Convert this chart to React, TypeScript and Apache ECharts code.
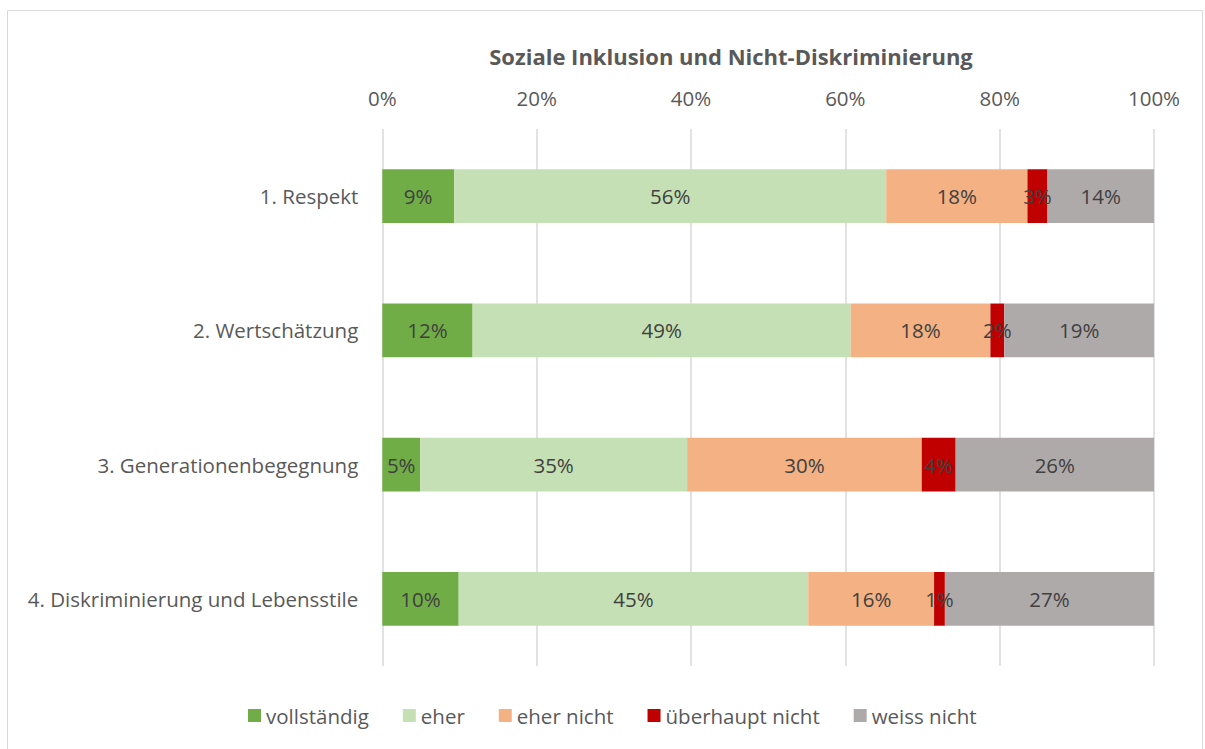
import React, { useEffect, useRef } from "react";
import * as echarts from "echarts";

const categories = [
  "1. Respekt",
  "2. Wertschätzung",
  "3. Generationenbegegnung",
  "4. Diskriminierung und Lebensstile",
];
const seriesNames = ["vollständig", "eher", "eher nicht", "überhaupt nicht", "weiss nicht"];
const vollstaendig = [9.3, 11.7, 4.9, 9.9];
const eher = [56.0, 49.0, 34.6, 45.3];
const eherNicht = [18.3, 18.1, 30.4, 16.3];
const ueberhauptNicht = [2.6, 1.8, 4.4, 1.4];
const weissNicht = [13.8, 19.4, 25.7, 27.1];
const colors = ["#70ad47", "#c5e0b4", "#f4b183", "#c00000", "#aeaaaa"];
const xTicks = [0, 20, 40, 60, 80, 100];

const FONT = "'Open Sans', sans-serif";
const FS = 20.5;

export default function App() {
  const ref = useRef<HTMLDivElement>(null);
  useEffect(() => {
    if (!ref.current) return;
    const chart = echarts.init(ref.current, null, { renderer: "svg" });
    const values = [vollstaendig, eher, eherNicht, ueberhauptNicht, weissNicht];
    chart.setOption({
      animation: false,
      textStyle: { fontFamily: FONT },
      title: {
        text: "Soziale Inklusion und Nicht-Diskriminierung",
        left: 726,
        top: 40,
        textAlign: "center",
        textStyle: { fontFamily: FONT, fontSize: 22, fontWeight: "bold", color: "#595959" },
      },
      graphic: [
        {
          type: "rect",
          shape: { x: 7.5, y: 10.5, width: 1195, height: 745 },
          style: { fill: "none", stroke: "#d9d9d9", lineWidth: 1 },
          silent: true,
        },
      ],
      legend: {
        bottom: 18,
        left: 243,
        itemWidth: 13,
        itemHeight: 13,
        itemGap: 34,
        icon: "rect",
        textStyle: { fontFamily: FONT, fontSize: FS, color: "#595959", padding: [0, 0, 0, 0] },
        data: seriesNames,
      },
      grid: { left: 382.3, right: 51, top: 129, height: 537, containLabel: false },
      xAxis: {
        type: "value",
        position: "top",
        min: xTicks[0],
        max: xTicks[xTicks.length - 1],
        interval: 20,
        axisLine: { show: false },
        axisTick: { show: false },
        splitLine: { lineStyle: { color: "#d9d9d9", width: 1.5 } },
        axisLabel: {
          formatter: "{value}%",
          margin: 21,
          fontFamily: FONT,
          fontSize: FS,
          color: "#595959",
        },
      },
      yAxis: {
        type: "category",
        inverse: true,
        data: categories,
        axisLine: { show: false },
        axisTick: { show: false },
        axisLabel: { margin: 24, fontFamily: FONT, fontSize: FS, color: "#595959" },
      },
      series: seriesNames.map((name, i) => ({
        name,
        type: "bar",
        stack: "total",
        barWidth: "40%",
        data: values[i],
        itemStyle: { color: colors[i] },
        label: {
          show: true,
          position: "inside",
          formatter: (p: any) => Math.round(p.value) + "%",
          fontFamily: FONT,
          fontSize: FS,
          color: "#404040",
        },
      })),
    });
    return () => chart.dispose();
  }, []);
  return (
    <div
      ref={ref}
      style={{ position: "fixed", left: 0, top: 0, width: 1205, height: 749, background: "#fff" }}
    />
  );
}
